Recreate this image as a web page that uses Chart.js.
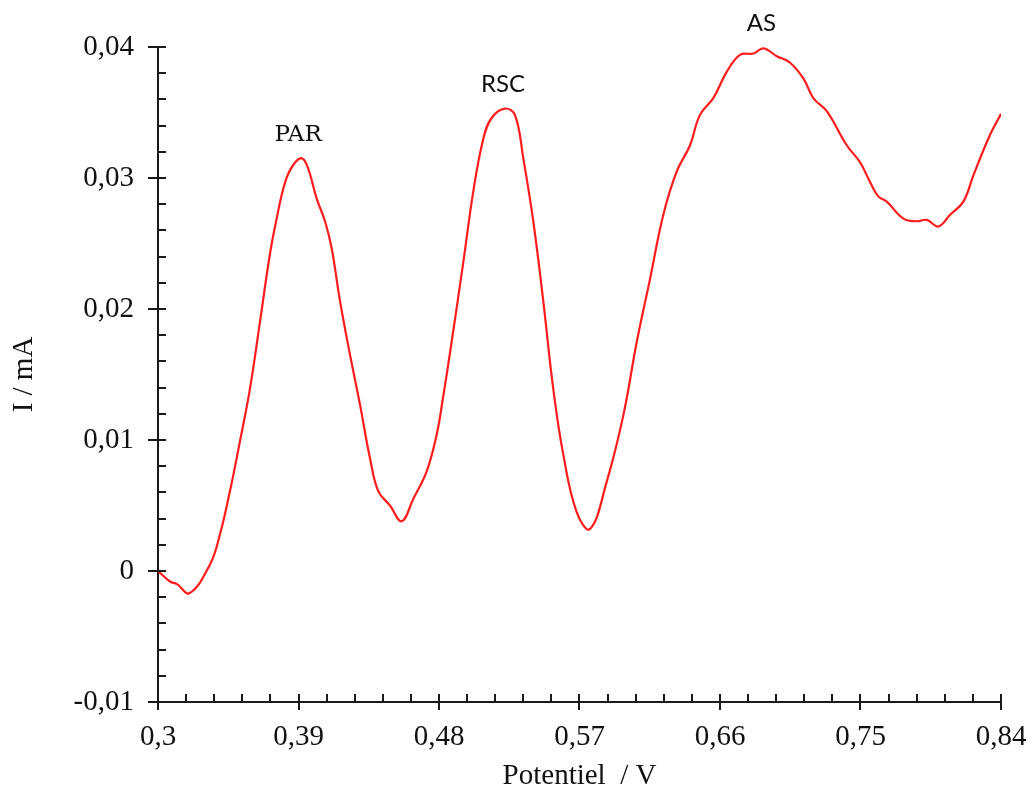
<!DOCTYPE html>
<html>
<head>
<meta charset="utf-8">
<title>Voltammogramme</title>
<script src="https://cdn.jsdelivr.net/npm/chart.js@4.4.0/dist/chart.umd.min.js"></script>
<style>
  html, body { margin: 0; padding: 0; background: #fff; }
</style>
</head>
<body>
<canvas id="voltammo" width="1032" height="794"></canvas>
<script>
// potentiel (V) et courant (mA)
const potential = [
  0.3000, 0.3077, 0.3122, 0.3201, 0.3333, 0.3397, 0.3461, 0.3525, 0.3589, 0.3653,
  0.3717, 0.3760, 0.3803, 0.3846, 0.3910, 0.3953, 0.4017, 0.4070, 0.4113, 0.4166,
  0.4230, 0.4294, 0.4358, 0.4411, 0.4486, 0.4561, 0.4635, 0.4721, 0.4785, 0.4828,
  0.4871, 0.4956, 0.5020, 0.5084, 0.5138, 0.5223, 0.5287, 0.5340, 0.5404, 0.5468,
  0.5532, 0.5596, 0.5682, 0.5767, 0.5874, 0.5981, 0.6067, 0.6152, 0.6237, 0.6323,
  0.6408, 0.6471, 0.6557, 0.6643, 0.6728, 0.6814, 0.6878, 0.6964, 0.7049, 0.7134,
  0.7198, 0.7284, 0.7412, 0.7497, 0.7561, 0.7614, 0.7668, 0.7775, 0.7860, 0.7924,
  0.7999, 0.8074, 0.8159, 0.8223, 0.8330, 0.8400
];
const current = [
  0.0000, -0.0008, -0.0010, -0.0017, 0.0005, 0.0028, 0.0061, 0.0099, 0.0139, 0.0190,
  0.0242, 0.0269, 0.0292, 0.0306, 0.0315, 0.0310, 0.0284, 0.0267, 0.0246, 0.0206,
  0.0165, 0.0127, 0.0086, 0.0061, 0.0050, 0.0038, 0.0055, 0.0076, 0.0104, 0.0134,
  0.0167, 0.0236, 0.0290, 0.0330, 0.0346, 0.0353, 0.0348, 0.0315, 0.0267, 0.0206,
  0.0139, 0.0089, 0.0045, 0.0032, 0.0068, 0.0119, 0.0175, 0.0223, 0.0272, 0.0305,
  0.0325, 0.0348, 0.0361, 0.0381, 0.0394, 0.0395, 0.0399, 0.0393, 0.0388, 0.0376,
  0.0361, 0.0351, 0.0325, 0.0312, 0.0297, 0.0286, 0.0282, 0.0269, 0.0267, 0.0268,
  0.0263, 0.0272, 0.0282, 0.0302, 0.0333, 0.0349
];

const xTicks = [0.3, 0.39, 0.48, 0.57, 0.66, 0.75, 0.84];
const yTicks = [-0.01, 0, 0.01, 0.02, 0.03, 0.04];

// pics identifiés
const peakNames = ['PAR', 'RSC', 'AS'];
const peakPotentials = [0.391, 0.5223, 0.6878];

const serif = '"Liberation Serif", "Times New Roman", serif';
const frNum = v => String(Number(v.toFixed(3))).replace('.', ',');

// graduations : majeures de part et d'autre de l'axe, mineures vers l'intérieur
const axisMarks = {
  id: 'axisMarks',
  afterDraw(chart) {
    const { ctx, chartArea: a, scales: { x, y } } = chart;
    const major = 8, minor = 8;
    ctx.save();
    ctx.strokeStyle = '#1a1a1a';
    ctx.lineWidth = 2;
    ctx.beginPath();
    xTicks.forEach((v, i) => {
      const px = Math.round(x.getPixelForValue(v));
      ctx.moveTo(px, a.bottom - major);
      ctx.lineTo(px, a.bottom + major);
      if (i < xTicks.length - 1) {
        const step = (xTicks[i + 1] - v) / 5;
        for (let k = 1; k < 5; k++) {
          const m = Math.round(x.getPixelForValue(v + k * step));
          ctx.moveTo(m, a.bottom);
          ctx.lineTo(m, a.bottom - minor);
        }
      }
    });
    yTicks.forEach((v, i) => {
      const py = Math.round(y.getPixelForValue(v));
      ctx.moveTo(a.left - 10, py);
      ctx.lineTo(a.left + major, py);
      if (i < yTicks.length - 1) {
        const step = (yTicks[i + 1] - v) / 5;
        for (let k = 1; k < 5; k++) {
          const m = Math.round(y.getPixelForValue(v + k * step));
          ctx.moveTo(a.left, m);
          ctx.lineTo(a.left + minor, m);
        }
      }
    });
    ctx.stroke();
    ctx.restore();
  }
};

// étiquettes des pics, posées au-dessus du maximum le plus proche
const peakLabels = {
  id: 'peakLabels',
  afterDatasetsDraw(chart) {
    const { ctx, scales: { x, y } } = chart;
    const fonts = {
      PAR: '23px "DejaVu Serif", serif',
      RSC: '24px Lato, "Open Sans", sans-serif',
      AS: '24px Lato, "Open Sans", sans-serif'
    };
    ctx.save();
    ctx.fillStyle = '#111';
    ctx.textAlign = 'center';
    ctx.textBaseline = 'alphabetic';
    peakNames.forEach((name, i) => {
      let idx = 0;
      potential.forEach((p, j) => {
        if (Math.abs(p - peakPotentials[i]) < Math.abs(potential[idx] - peakPotentials[i])) idx = j;
      });
      const px = x.getPixelForValue(potential[idx]);
      const py = y.getPixelForValue(current[idx]);
      ctx.font = fonts[name];
      ctx.fillText(name, px - 2, py - 17);
    });
    ctx.restore();
  }
};

new Chart(document.getElementById('voltammo'), {
  type: 'line',
  data: {
    datasets: [{
      data: potential.map((p, i) => ({ x: p, y: current[i] })),
      borderColor: 'rgb(255, 28, 28)',
      borderWidth: 2.2,
      pointRadius: 0,
      tension: 0.4,
      fill: false
    }]
  },
  options: {
    responsive: false,
    animation: false,
    layout: { padding: { top: 47, right: 31, bottom: 0, left: 0 } },
    plugins: {
      legend: { display: false },
      tooltip: { enabled: false }
    },
    scales: {
      x: {
        type: 'linear',
        min: 0.3,
        max: 0.84,
        afterBuildTicks: s => { s.ticks = xTicks.map(v => ({ value: v })); },
        afterFit: s => { s.height = 92; s.paddingLeft = 0; s.paddingRight = 0; },
        grid: { display: false, drawTicks: false },
        border: { display: true, color: '#1a1a1a', width: 2 },
        ticks: {
          padding: 18,
          color: '#111',
          font: { family: serif, size: 29 },
          callback: v => frNum(v)
        },
        title: {
          display: true,
          text: 'Potentiel  / V',
          color: '#111',
          font: { family: serif, size: 29 },
          padding: { top: 0, bottom: 0 }
        }
      },
      y: {
        type: 'linear',
        min: -0.01,
        max: 0.04,
        afterBuildTicks: s => { s.ticks = yTicks.map(v => ({ value: v })); },
        afterFit: s => { s.width = 158; s.paddingTop = 0; s.paddingBottom = 0; },
        grid: { display: false, drawTicks: false },
        border: { display: true, color: '#1a1a1a', width: 2 },
        ticks: {
          padding: 24,
          color: '#111',
          font: { family: serif, size: 29 },
          callback: v => frNum(v)
        },
        title: {
          display: true,
          text: 'I / mA',
          color: '#111',
          font: { family: serif, size: 29 },
          padding: { top: 7, bottom: 0 }
        }
      }
    }
  },
  plugins: [axisMarks, peakLabels]
});
</script>
</body>
</html>
